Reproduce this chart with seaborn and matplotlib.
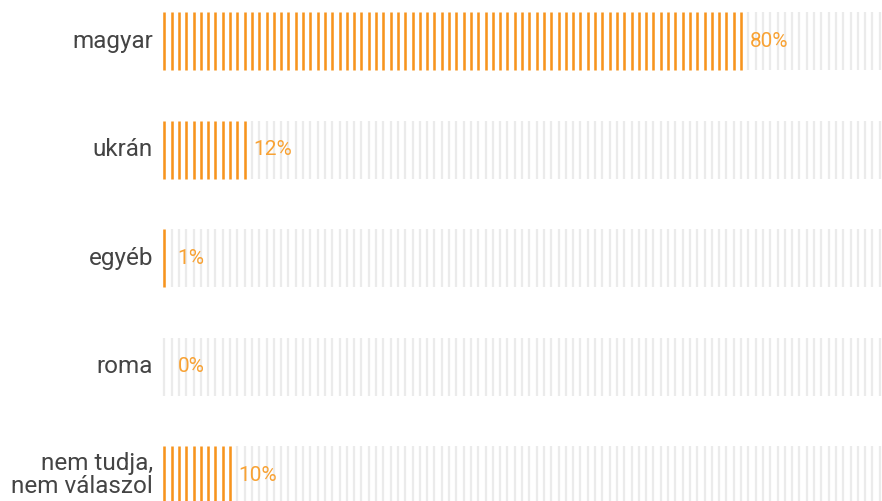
import matplotlib
matplotlib.use("Agg")
import matplotlib.pyplot as plt
import seaborn as sns
import pandas as pd
import numpy as np

categories = ["magyar", "ukrán", "egyéb", "roma", "nem tudja,\nnem válaszol"]
values = [80, 12, 1, 0, 10]
value_labels = ["80%", "12%", "1%", "0%", "10%"]
n_units = 100

ORANGE = "#f7941d"
GRAY = "#ebebeb"
LABEL_ORANGE = "#f8a234"
TEXT = "#444444"

sns.set_theme(style="white")
plt.rcParams["font.family"] = ["Roboto", "DejaVu Sans"]

rows = []
for r, (cat, v) in enumerate(zip(categories, values)):
    for i in range(n_units):
        rows.append({"row": r, "unit": i, "state": "filled" if i < v else "empty"})
df = pd.DataFrame(rows)

fig = plt.figure(figsize=(8.82, 5.01), dpi=100)
ax = fig.add_axes([0, 0, 1, 1])

px_per_unit = 7.30
x0_px = 164.3
row_px = 108.6
y0_px = 41.0
line_len_pt = 58 * 0.72

sns.scatterplot(data=df[df.state == "empty"], x="unit", y="row", marker="|",
                s=line_len_pt ** 2, color=GRAY, linewidth=1.6, ax=ax, legend=False)
sns.scatterplot(data=df[df.state == "filled"], x="unit", y="row", marker="|",
                s=line_len_pt ** 2, color=ORANGE, linewidth=1.85, ax=ax, legend=False)

ax.set_xlim(-x0_px / px_per_unit, (882 - x0_px) / px_per_unit)
ax.set_ylim((501 - y0_px) / row_px, -y0_px / row_px)

for r, (cat, v, lab) in enumerate(zip(categories, values, value_labels)):
    ax.text(-1.55, r, cat, ha="right", va="center", fontsize=17.5, color=TEXT,
            linespacing=1.0)
    ax.text(max(v, 1.6) + 0.2, r, lab, ha="left", va="center", fontsize=15,
            color=LABEL_ORANGE)

ax.set_axis_off()
fig.savefig("out.png", dpi=100)
